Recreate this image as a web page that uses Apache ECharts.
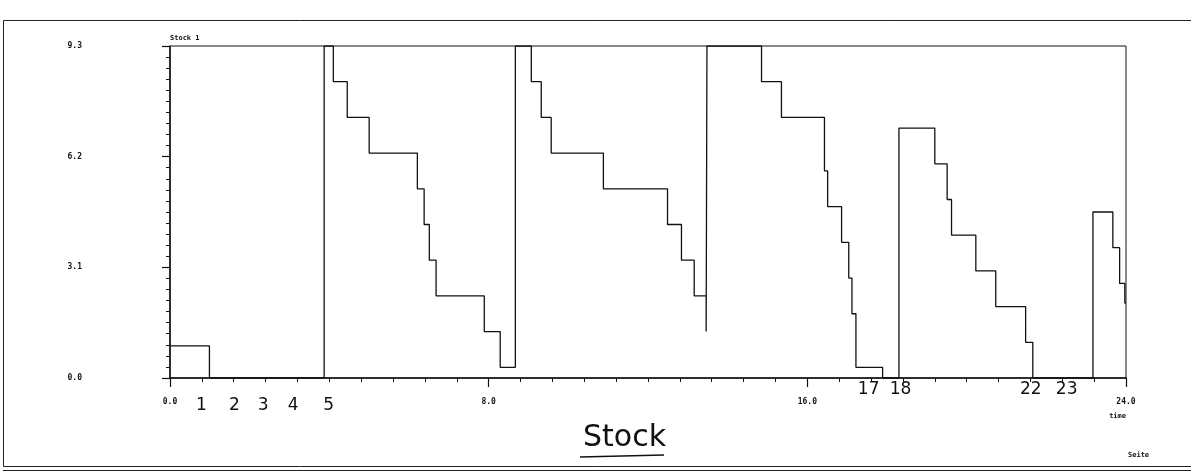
<!DOCTYPE html>
<html>
<head>
<meta charset="utf-8">
<title>Stock</title>
<script src="https://cdn.jsdelivr.net/npm/echarts@6/dist/echarts.min.js"></script>
<style>
  html, body { margin: 0; padding: 0; background: #fff; }
  #chart { width: 1191px; height: 475px; }
</style>
</head>
<body>
<div id="chart"></div>
<script>
// stock level: each entry is the time of an event and the level right after it
var eventTimes = [0, 0.99, 3.87, 4.10, 4.45, 5.00, 6.21, 6.38, 6.51, 6.68, 7.89, 8.29,
    8.67, 9.07, 9.32, 9.57, 10.88, 12.49, 12.84, 13.16, 13.46,
    13.48, 14.85, 15.35, 16.43, 16.51, 16.86, 17.04, 17.12, 17.22, 17.89,
    18.30, 19.20, 19.51, 19.62, 20.23, 20.73, 21.48, 21.66,
    23.17, 23.67, 23.84, 23.97, 24.0];
var stockLevels = [0.9, 0, 9.3, 8.3, 7.3, 6.3, 5.3, 4.3, 3.3, 2.3, 1.3, 0.3,
    9.3, 8.3, 7.3, 6.3, 5.3, 4.3, 3.3, 2.3, 1.3,
    9.3, 8.3, 7.3, 5.8, 4.8, 3.8, 2.8, 1.8, 0.3, 0,
    7.0, 6.0, 5.0, 4.0, 3.0, 2.0, 1.0, 0,
    4.65, 3.65, 2.65, 2.1, 2.1];

// handwritten numbers under the time axis
var noteTimesLow = [0.79, 1.62, 2.34, 3.09, 3.98];
var noteTextLow = ['1', '2', '3', '4', '5'];
var noteTimesHigh = [17.54, 18.34, 21.61, 22.51];
var noteTextHigh = ['17', '18', '22', '23'];

var timeTicks = [0, 8, 16, 24];
var stockTicks = [0, 3.1, 6.2, 9.3];

var myChart = echarts.init(document.getElementById('chart'));

var data = [];
for (var i = 0; i < eventTimes.length; i++) {
    data.push([eventTimes[i], stockLevels[i]]);
}

var tickFont = {
    color: '#111',
    fontSize: 8,
    fontWeight: 'bold',
    fontFamily: 'DejaVu Sans Mono'
};
var handFont = {
    color: '#111',
    fontSize: 17,
    fontFamily: 'DejaVu Sans'
};

function noteAxis(times, texts, margin) {
    return {
        type: 'value',
        min: 0,
        max: 24,
        position: 'bottom',
        axisLine: { show: false },
        axisTick: { show: false },
        splitLine: { show: false },
        axisLabel: Object.assign({
            customValues: times,
            margin: margin,
            formatter: function (v) {
                var k = times.indexOf(v);
                return k < 0 ? '' : texts[k];
            }
        }, handFont)
    };
}

option = {
    animation: false,
    backgroundColor: '#fff',
    title: {
        text: 'Stock',
        left: 578,
        top: 418,
        textStyle: {
            fontSize: 30,
            fontWeight: 'normal',
            fontFamily: 'DejaVu Sans',
            color: '#111'
        }
    },
    grid: {
        left: 170,
        right: 65,
        top: 46,
        bottom: 97,
        show: true,
        borderColor: '#111',
        borderWidth: 1
    },
    xAxis: [
        {
            type: 'value',
            min: 0,
            max: 24,
            interval: 8,
            name: '\n\n\ntime',
            nameLocation: 'end',
            nameGap: 0,
            nameMoveOverlap: false,
            nameTextStyle: {
                color: '#111',
                fontSize: 7,
                fontWeight: 'bold',
                fontFamily: 'DejaVu Sans Mono',
                align: 'right',
                verticalAlign: 'top',
                lineHeight: 11
            },
            axisLine: { lineStyle: { color: '#111', width: 1.5 } },
            axisTick: { length: 9, lineStyle: { color: '#111', width: 1.2 } },
            minorTick: { show: true, splitNumber: 10, length: 4, lineStyle: { color: '#111', width: 1 } },
            splitLine: { show: false },
            axisLabel: Object.assign({
                margin: 20,
                customValues: timeTicks,
                formatter: function (v) { return v.toFixed(1); }
            }, tickFont)
        },
        noteAxis(noteTimesLow, noteTextLow, 19),
        noteAxis(noteTimesHigh, noteTextHigh, 3)
    ],
    yAxis: {
        type: 'value',
        min: 0,
        max: 9.3,
        interval: 3.1,
        name: 'Stock 1',
        nameLocation: 'end',
        nameGap: 4,
        nameTextStyle: { align: 'left', fontSize: 7, color: '#111', fontWeight: 'bold', fontFamily: 'DejaVu Sans Mono' },
        axisLine: { show: true, lineStyle: { color: '#111', width: 1.5 } },
        axisTick: { show: true, length: 8, lineStyle: { color: '#111', width: 1.2 } },
        minorTick: { show: true, splitNumber: 10, length: 4, lineStyle: { color: '#111', width: 1 } },
        splitLine: { show: false },
        axisLabel: Object.assign({
            margin: 88,
            customValues: stockTicks,
            formatter: function (v) { return v.toFixed(1); }
        }, tickFont)
    },
    series: [{
        type: 'line',
        step: 'end',
        xAxisIndex: 0,
        showSymbol: false,
        symbol: 'none',
        lineStyle: { color: '#111', width: 1.3 },
        data: data
    }],
    graphic: [
        {
            type: 'rect',
            shape: { x: 3.5, y: 20.5, width: 1200, height: 446 },
            style: { fill: 'none', stroke: '#222', lineWidth: 1 }
        },
        {
            type: 'line',
            shape: { x1: 3, y1: 470.5, x2: 1191, y2: 470.5 },
            style: { stroke: '#222', lineWidth: 1 }
        },
        {
            type: 'line',
            shape: { x1: 580, y1: 457, x2: 664, y2: 455 },
            style: { stroke: '#111', lineWidth: 1.5 }
        },
        {
            type: 'text',
            left: 1128,
            top: 452,
            style: { text: 'Seite', fill: '#111', font: 'bold 7px "DejaVu Sans Mono"' }
        }
    ]
};
myChart.setOption(option);
</script>
</body>
</html>
